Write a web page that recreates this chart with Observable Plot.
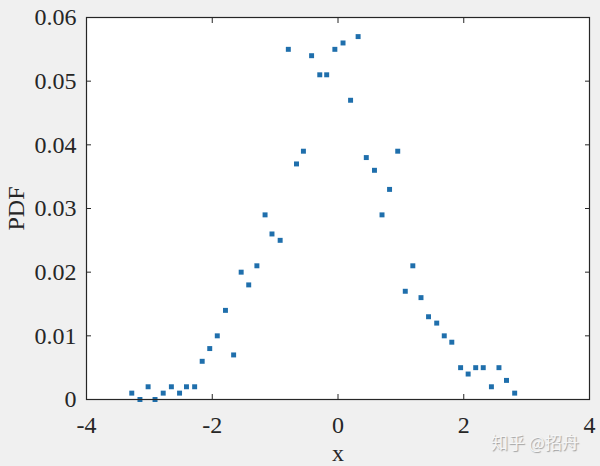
<!DOCTYPE html>
<html>
<head>
<meta charset="utf-8">
<script src="https://cdn.jsdelivr.net/npm/d3@7"></script>
<script src="https://cdn.jsdelivr.net/npm/@observablehq/plot@0.6"></script>
<style>
  html, body { margin: 0; padding: 0; background: #f0f0f0; }
  #wrap { position: relative; width: 600px; height: 466px; overflow: hidden; }
  #wm { position: absolute; left: 491px; top: 433px; line-height: 1; font-family: "Noto Sans CJK SC", sans-serif; font-size: 17px; color: #f6f6f6; text-shadow: 1px 1px 1px #a0a0a0; white-space: nowrap; }
</style>
</head>
<body>
<div id="wrap"><div id="chart"></div><div id="wm">知乎 @招舟</div></div>
<script>
const xValues = [-3.28, -3.15, -3.02, -2.91, -2.78, -2.65, -2.52, -2.41, -2.28, -2.16,
  -2.04, -1.92, -1.79, -1.66, -1.54, -1.42, -1.29, -1.16, -1.05, -0.92,
  -0.79, -0.66, -0.55, -0.42, -0.29, -0.18, -0.05, 0.08, 0.20, 0.32,
  0.45, 0.58, 0.70, 0.82, 0.95, 1.07, 1.19, 1.32, 1.44, 1.57,
  1.69, 1.81, 1.95, 2.07, 2.19, 2.31, 2.44, 2.56, 2.68, 2.81];
const pdfValues = [0.001, 0.000, 0.002, 0.000, 0.001, 0.002, 0.001, 0.002, 0.002, 0.006,
  0.008, 0.010, 0.014, 0.007, 0.020, 0.018, 0.021, 0.029, 0.026, 0.025,
  0.055, 0.037, 0.039, 0.054, 0.051, 0.051, 0.055, 0.056, 0.047, 0.057,
  0.038, 0.036, 0.029, 0.033, 0.039, 0.017, 0.021, 0.016, 0.013, 0.012,
  0.010, 0.009, 0.005, 0.004, 0.005, 0.005, 0.002, 0.005, 0.003, 0.001];
const xTicks = [-4, -2, 0, 2, 4];
const xTickLabels = ["-4", "-2", "0", "2", "4"];
const yTicks = [0, 0.01, 0.02, 0.03, 0.04, 0.05, 0.06];
const yTickLabels = ["0", "0.01", "0.02", "0.03", "0.04", "0.05", "0.06"];
const xLabel = "x";
const yLabel = "PDF";

const data = xValues.map((x, i) => ({x, pdf: pdfValues[i]}));
const axisColor = "#262626";

const chart = Plot.plot({
  width: 600,
  height: 466,
  marginLeft: 86,
  marginRight: 11,
  marginTop: 17,
  marginBottom: 67,
  style: {background: "transparent", fontFamily: "'Liberation Serif', 'Times New Roman', serif", fontSize: "24px", color: axisColor},
  x: {domain: [-4, 4]},
  y: {domain: [0, 0.06]},
  marks: [
    Plot.frame({fill: "white"}),
    Plot.dot(data, {x: "x", y: "pdf", symbol: "square", r: 2.8, fill: "#1f6fac", stroke: null}),
    Plot.axisX(xTicks, {anchor: "bottom", tickSize: -5, tickPadding: 21, tickFormat: (d, i) => xTickLabels[i], stroke: axisColor, fill: axisColor, label: null, fontSize: 24}),
    Plot.axisX(xTicks, {anchor: "top", tickSize: -5, text: null, label: null, stroke: axisColor}),
    Plot.axisY(yTicks, {anchor: "left", tickSize: -5, tickPadding: 15, tickFormat: (d, i) => yTickLabels[i], stroke: axisColor, fill: axisColor, label: yLabel, labelAnchor: "center", labelArrow: "none", labelOffset: 80, fontSize: 24}),
    Plot.axisY(yTicks, {anchor: "right", tickSize: -5, text: null, label: null, stroke: axisColor}),
    Plot.frame({stroke: axisColor, strokeWidth: 1.2}),
    Plot.text([xLabel], {frameAnchor: "bottom", dy: 54, lineAnchor: "middle", text: d => d, fontSize: 24, fill: axisColor})
  ]
});
document.getElementById("chart").appendChild(chart);
</script>
</body>
</html>
